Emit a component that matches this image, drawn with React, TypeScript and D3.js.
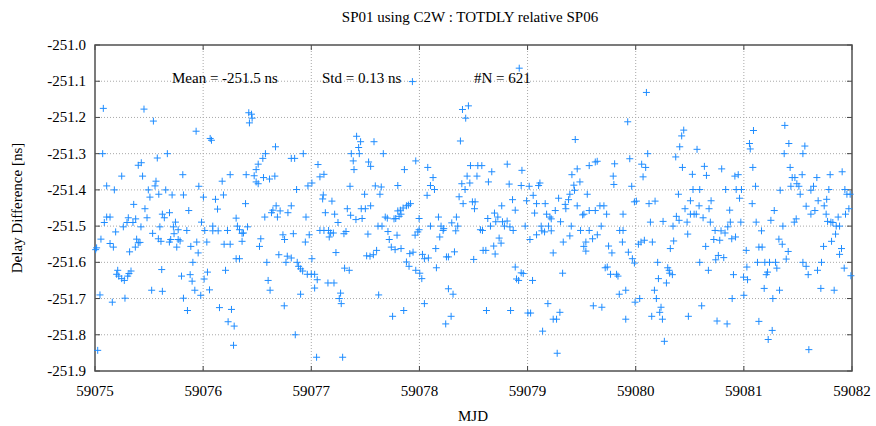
import React from "react";
import * as d3 from "d3";

const title = "SP01 using C2W : TOTDLY relative SP06";
const xLabel = "MJD";
const yLabel = "Delay Difference [ns]";
const xTicks = [59075, 59076, 59077, 59078, 59079, 59080, 59081, 59082];
const yTicks = [-251.0, -251.1, -251.2, -251.3, -251.4, -251.5, -251.6, -251.7, -251.8, -251.9];
const meanText = "Mean = -251.5 ns";
const stdText = "Std = 0.13 ns";
const countText = "#N = 621";

// [MJD, delay ns], grouped by the stretch of the plot they fall in
const stretch1: [number, number][] = [
  [59075.077,-251.175],[59075.453,-251.177],[59075.54,-251.21],[59075.071,-251.30],[59075.669,-251.30],[59075.576,-251.312],[59075.428,-251.325],[59075.40,-251.332],[59075.247,-251.362],[59075.44,-251.362],
  [59075.108,-251.389],[59075.179,-251.40],[59075.564,-251.376],[59075.555,-251.389],[59075.493,-251.40],[59075.508,-251.42],[59075.59,-251.412],[59075.654,-251.40],[59075.358,-251.44],[59075.462,-251.452],
  [59075.108,-251.475],[59075.139,-251.475],[59075.308,-251.477],[59075.481,-251.477],[59075.623,-251.467],[59075.641,-251.477],[59075.086,-251.49],[59075.296,-251.49],[59075.351,-251.49],[59075.376,-251.48],
  [59075.262,-251.502],[59075.425,-251.502],[59075.60,-251.502],[59075.191,-251.516],[59075.055,-251.536],[59075.139,-251.548],[59075.17,-251.558],[59075.385,-251.536],[59075.40,-251.546],[59075.416,-251.545],
  [59075.373,-251.558],[59075.533,-251.52],[59075.586,-251.535],[59075.61,-251.542],[59075.006,-251.565],[59075.015,-251.56],[59075.32,-251.571],[59075.21,-251.622],[59075.20,-251.633],[59075.22,-251.638],
  [59075.247,-251.645],[59075.271,-251.65],[59075.302,-251.638],[59075.314,-251.631],[59075.333,-251.624],[59075.617,-251.62],[59075.524,-251.677],[59075.623,-251.68],[59075.046,-251.69],[59075.16,-251.71],
  [59075.277,-251.699],[59075.025,-251.843],
];
const stretch2: [number, number][] = [
  [59075.935,-251.238],[59076.422,-251.187],[59076.447,-251.191],[59076.453,-251.202],[59076.428,-251.215],[59076.065,-251.258],[59076.077,-251.263],[59076.669,-251.281],[59076.576,-251.30],[59076.552,-251.313],
  [59076.509,-251.329],[59076.49,-251.344],[59075.812,-251.358],[59076.25,-251.358],[59076.398,-251.358],[59076.472,-251.361],[59076.558,-251.366],[59076.614,-251.37],[59076.663,-251.362],[59076.176,-251.376],
  [59076.49,-251.378],[59076.509,-251.383],[59075.96,-251.39],[59075.713,-251.414],[59075.818,-251.414],[59076.003,-251.42],[59076.114,-251.426],[59076.188,-251.414],[59076.392,-251.438],[59076.133,-251.453],
  [59075.867,-251.457],[59075.689,-251.463],[59076.645,-251.456],[59076.675,-251.444],[59076.712,-251.458],[59076.632,-251.463],[59076.687,-251.475],[59076.57,-251.475],[59076.305,-251.478],[59075.744,-251.489],
  [59075.985,-251.489],[59076.089,-251.50],[59076.317,-251.50],[59076.41,-251.502],[59075.725,-251.502],[59075.769,-251.51],[59075.849,-251.512],[59076.015,-251.512],[59076.089,-251.513],[59076.139,-251.513],
  [59076.225,-251.512],[59076.336,-251.51],[59076.373,-251.519],[59076.36,-251.52],[59075.731,-251.521],[59075.70,-251.537],[59075.688,-251.544],[59075.769,-251.537],[59075.787,-251.541],[59075.756,-251.558],
  [59075.886,-251.556],[59075.941,-251.544],[59076.034,-251.544],[59076.194,-251.55],[59076.25,-251.55],[59076.36,-251.542],[59076.533,-251.535],[59076.521,-251.556],[59075.954,-251.574],[59075.905,-251.60],
  [59076.305,-251.59],[59076.336,-251.59],[59076.589,-251.60],[59076.70,-251.579],[59075.80,-251.638],[59075.88,-251.634],[59076.04,-251.627],[59076.009,-251.646],[59076.207,-251.622],[59076.601,-251.65],
  [59075.898,-251.652],[59075.923,-251.677],[59075.978,-251.691],[59076.059,-251.676],[59076.619,-251.677],[59075.818,-251.699],[59075.855,-251.733],[59076.151,-251.725],[59076.262,-251.73],[59076.231,-251.764],
  [59076.287,-251.776],[59076.281,-251.829],
];
const stretch3: [number, number][] = [
  [59077.419,-251.252],[59077.456,-251.267],[59077.58,-251.267],[59077.438,-251.283],[59077.37,-251.30],[59077.444,-251.30],[59077.666,-251.30],[59076.926,-251.30],[59076.815,-251.313],[59076.846,-251.313],
  [59077.388,-251.32],[59077.53,-251.323],[59077.549,-251.335],[59077.395,-251.344],[59077.062,-251.33],[59077.117,-251.357],[59077.08,-251.364],[59077.006,-251.381],[59076.969,-251.389],[59076.864,-251.399],
  [59077.358,-251.39],[59077.592,-251.389],[59077.647,-251.392],[59077.635,-251.412],[59077.111,-251.414],[59077.105,-251.425],[59077.493,-251.412],[59077.191,-251.431],[59076.815,-251.444],[59076.784,-251.463],
  [59076.951,-251.475],[59077.13,-251.463],[59077.216,-251.467],[59077.333,-251.452],[59077.364,-251.47],[59077.413,-251.482],[59077.462,-251.452],[59077.50,-251.452],[59077.549,-251.444],[59077.47,-251.479],
  [59077.247,-251.49],[59077.684,-251.475],[59077.703,-251.478],[59077.765,-251.48],[59077.617,-251.50],[59077.654,-251.50],[59077.08,-251.512],[59077.117,-251.512],[59077.16,-251.512],[59077.179,-251.519],
  [59077.204,-251.519],[59077.166,-251.53],[59077.302,-251.521],[59077.321,-251.515],[59077.524,-251.522],[59077.709,-251.515],[59076.834,-251.521],[59076.738,-251.524],[59076.753,-251.537],[59076.981,-251.524],
  [59076.945,-251.544],[59077.721,-251.537],[59077.74,-251.558],[59077.228,-251.573],[59077.604,-251.567],[59077.574,-251.579],[59077.512,-251.582],[59077.543,-251.583],[59077.006,-251.59],[59076.766,-251.60],
  [59076.778,-251.583],[59076.815,-251.588],[59076.87,-251.60],[59076.883,-251.611],[59076.901,-251.618],[59076.92,-251.624],[59077.308,-251.616],[59077.351,-251.622],[59076.963,-251.633],[59077.0,-251.633],
  [59077.031,-251.633],[59077.055,-251.648],[59077.031,-251.671],[59077.154,-251.657],[59077.21,-251.657],[59077.271,-251.685],[59077.259,-251.70],[59077.277,-251.714],[59076.901,-251.688],[59077.623,-251.69],
  [59076.75,-251.72],[59077.752,-251.749],[59076.852,-251.80],[59077.049,-251.862],[59077.29,-251.862],
];
const stretch4: [number, number][] = [
  [59077.935,-251.101],[59078.398,-251.178],[59078.453,-251.168],[59078.428,-251.202],[59078.379,-251.265],[59077.966,-251.32],[59078.077,-251.338],[59077.861,-251.344],[59078.472,-251.333],[59078.54,-251.333],
  [59078.577,-251.333],[59078.669,-251.35],[59078.441,-251.362],[59078.532,-251.362],[59078.126,-251.366],[59077.80,-251.388],[59078.102,-251.388],[59078.139,-251.399],[59078.392,-251.383],[59078.466,-251.381],
  [59078.638,-251.378],[59078.422,-251.399],[59078.071,-251.415],[59078.367,-251.419],[59078.404,-251.438],[59078.49,-251.433],[59078.515,-251.433],[59078.509,-251.452],[59078.761,-251.444],[59077.917,-251.438],
  [59077.898,-251.442],[59077.88,-251.444],[59077.849,-251.45],[59077.824,-251.456],[59077.80,-251.458],[59077.83,-251.467],[59077.812,-251.473],[59078.694,-251.464],[59078.725,-251.475],[59077.781,-251.479],
  [59077.997,-251.479],[59078.176,-251.475],[59078.342,-251.475],[59078.632,-251.479],[59078.706,-251.488],[59078.768,-251.488],[59078.811,-251.486],[59078.102,-251.50],[59078.20,-251.50],[59078.225,-251.507],
  [59078.299,-251.491],[59078.354,-251.50],[59078.657,-251.50],[59078.786,-251.50],[59078.219,-251.512],[59078.336,-251.513],[59078.564,-251.51],[59078.583,-251.512],[59077.997,-251.51],[59077.985,-251.516],
  [59077.793,-251.525],[59077.96,-251.525],[59078.188,-251.53],[59078.737,-251.533],[59078.755,-251.547],[59078.687,-251.555],[59078.70,-251.577],[59078.589,-251.567],[59078.614,-251.567],[59077.775,-251.565],
  [59077.83,-251.562],[59077.911,-251.576],[59077.941,-251.572],[59078.151,-251.562],[59078.324,-251.571],[59078.028,-251.578],[59078.046,-251.59],[59078.083,-251.588],[59078.25,-251.585],[59078.268,-251.585],
  [59078.502,-251.592],[59077.88,-251.599],[59077.904,-251.611],[59078.157,-251.615],[59077.966,-251.622],[59078.003,-251.63],[59078.022,-251.645],[59078.268,-251.673],[59078.311,-251.688],[59078.046,-251.714],
  [59077.855,-251.733],[59078.62,-251.733],[59078.293,-251.749],[59078.243,-251.77],
];
const stretch5: [number, number][] = [
  [59078.923,-251.064],[59079.441,-251.261],[59079.644,-251.321],[59079.626,-251.323],[59079.57,-251.333],[59079.805,-251.328],[59079.459,-251.342],[59079.41,-251.358],[59078.948,-251.346],[59079.792,-251.362],
  [59079.798,-251.385],[59078.812,-251.329],[59078.83,-251.384],[59078.941,-251.388],[59079.015,-251.39],[59079.102,-251.388],[59079.114,-251.381],[59079.484,-251.378],[59079.428,-251.387],[59079.434,-251.401],
  [59079.052,-251.415],[59079.391,-251.412],[59079.552,-251.412],[59078.861,-251.427],[59078.991,-251.43],[59079.379,-251.427],[59079.287,-251.423],[59079.083,-251.438],[59079.163,-251.438],[59079.348,-251.44],
  [59079.459,-251.444],[59079.669,-251.444],[59079.706,-251.444],[59079.354,-251.452],[59078.886,-251.456],[59079.256,-251.457],[59079.065,-251.464],[59079.176,-251.467],[59079.509,-251.469],[59079.521,-251.467],
  [59079.57,-251.457],[59079.626,-251.457],[59079.731,-251.467],[59079.207,-251.475],[59079.219,-251.48],[59079.305,-251.488],[59078.837,-251.502],[59078.978,-251.50],[59079.126,-251.50],[59079.194,-251.50],
  [59079.404,-251.50],[59079.681,-251.50],[59078.867,-251.512],[59079.132,-251.513],[59079.157,-251.516],[59079.219,-251.513],[59079.49,-251.512],[59079.57,-251.512],[59079.083,-251.524],[59079.391,-251.527],
  [59079.645,-251.524],[59079.022,-251.537],[59079.601,-251.535],[59079.33,-251.544],[59079.539,-251.544],[59079.52,-251.556],[59079.539,-251.569],[59079.749,-251.555],[59079.78,-251.574],[59079.237,-251.574],
  [59079.718,-251.615],[59079.737,-251.613],[59079.767,-251.633],[59079.823,-251.633],[59079.836,-251.638],[59079.324,-251.63],[59078.886,-251.613],[59078.941,-251.629],[59078.96,-251.631],[59078.898,-251.646],
  [59078.917,-251.65],[59079.046,-251.65],[59079.848,-251.688],[59078.843,-251.733],[59079.003,-251.74],[59079.028,-251.74],[59079.188,-251.714],[59079.299,-251.738],[59079.237,-251.757],[59079.268,-251.757],
  [59079.608,-251.72],[59079.687,-251.724],[59079.139,-251.79],[59079.274,-251.851],
];
const stretch6: [number, number][] = [
  [59080.099,-251.131],[59079.926,-251.212],[59080.444,-251.235],[59080.425,-251.251],[59080.407,-251.281],[59080.567,-251.288],[59080.111,-251.30],[59080.37,-251.309],[59079.945,-251.314],[59080.055,-251.329],
  [59080.092,-251.338],[59080.432,-251.338],[59080.635,-251.335],[59080.795,-251.342],[59080.068,-251.364],[59080.524,-251.357],[59080.654,-251.36],[59079.963,-251.39],[59080.53,-251.399],[59080.592,-251.399],
  [59080.832,-251.399],[59080.395,-251.412],[59079.988,-251.433],[59080.006,-251.431],[59080.123,-251.438],[59080.179,-251.431],[59080.506,-251.43],[59080.697,-251.43],[59080.586,-251.444],[59080.456,-251.452],
  [59080.678,-251.452],[59079.883,-251.467],[59080.376,-251.473],[59080.506,-251.467],[59080.54,-251.467],[59080.56,-251.467],[59080.623,-251.477],[59080.869,-251.456],[59080.401,-251.484],[59080.253,-251.487],
  [59080.136,-251.489],[59080.475,-251.489],[59080.69,-251.489],[59080.875,-251.489],[59080.345,-251.50],[59080.851,-251.502],[59079.852,-251.512],[59079.883,-251.512],[59080.734,-251.512],[59080.789,-251.513],
  [59080.826,-251.519],[59080.481,-251.522],[59080.722,-251.537],[59080.777,-251.539],[59080.888,-251.535],[59079.877,-251.544],[59080.025,-251.55],[59080.049,-251.544],[59080.08,-251.539],[59080.154,-251.544],
  [59080.351,-251.541],[59080.32,-251.562],[59080.647,-251.556],[59079.932,-251.572],[59079.969,-251.59],[59079.988,-251.602],[59080.203,-251.60],[59080.592,-251.60],[59080.74,-251.593],[59080.764,-251.581],
  [59080.814,-251.587],[59080.296,-251.615],[59080.309,-251.622],[59080.314,-251.63],[59080.339,-251.634],[59080.672,-251.622],[59080.21,-251.645],[59080.284,-251.657],[59080.173,-251.677],[59079.908,-251.677],
  [59080.037,-251.70],[59080.191,-251.70],[59079.994,-251.71],[59080.234,-251.724],[59080.222,-251.738],[59080.148,-251.749],[59080.247,-251.757],[59080.487,-251.749],[59080.61,-251.72],[59079.908,-251.757],
  [59080.752,-251.762],[59080.845,-251.77],[59080.265,-251.818],
];
const stretch7: [number, number][] = [
  [59081.379,-251.222],[59081.089,-251.236],[59081.052,-251.272],[59081.059,-251.287],[59081.416,-251.272],[59081.564,-251.279],[59081.373,-251.30],[59081.546,-251.30],[59081.083,-251.338],[59081.428,-251.338],
  [59080.917,-251.362],[59080.948,-251.358],[59081.447,-251.366],[59081.472,-251.366],[59081.539,-251.358],[59081.675,-251.366],[59081.798,-251.358],[59081.909,-251.35],[59081.108,-251.39],[59081.435,-251.39],
  [59081.49,-251.383],[59081.509,-251.39],[59081.644,-251.39],[59080.929,-251.399],[59080.978,-251.399],[59081.336,-251.401],[59081.62,-251.401],[59081.786,-251.399],[59081.934,-251.399],[59081.521,-251.412],
  [59081.953,-251.412],[59081.983,-251.412],[59080.96,-251.423],[59081.077,-251.438],[59081.687,-251.43],[59081.766,-251.426],[59081.576,-251.445],[59081.743,-251.444],[59081.971,-251.452],[59081.281,-251.457],
  [59081.657,-251.457],[59081.62,-251.467],[59081.761,-251.467],[59081.872,-251.475],[59081.94,-251.467],[59081.25,-251.484],[59081.484,-251.48],[59081.466,-251.489],[59081.774,-251.487],[59081.805,-251.489],
  [59081.823,-251.49],[59080.972,-251.489],[59081.114,-251.489],[59081.361,-251.50],[59081.854,-251.50],[59081.885,-251.50],[59081.163,-251.513],[59081.848,-251.522],[59080.923,-251.53],[59081.324,-251.536],
  [59081.355,-251.55],[59081.811,-251.542],[59081.139,-251.558],[59081.169,-251.558],[59081.737,-251.556],[59081.903,-251.562],[59081.022,-251.567],[59081.41,-251.57],[59081.885,-251.578],[59081.392,-251.591],
  [59081.126,-251.60],[59081.194,-251.60],[59081.237,-251.60],[59081.293,-251.60],[59081.546,-251.60],[59081.718,-251.60],[59081.305,-251.616],[59081.576,-251.611],[59081.681,-251.622],[59081.928,-251.616],
  [59081.028,-251.613],[59081.219,-251.627],[59081.207,-251.634],[59081.595,-251.634],[59081.99,-251.637],[59080.904,-251.634],[59080.997,-251.641],[59081.034,-251.648],[59081.188,-251.672],[59081.33,-251.677],
  [59081.712,-251.672],[59081.835,-251.677],[59081.0,-251.691],[59080.892,-251.70],[59081.268,-251.70],[59081.139,-251.763],[59081.262,-251.788],[59081.225,-251.813],[59081.601,-251.841],
];

const W = 876;
const H = 426;
const left = 95;
const right = 852;
const top = 45;
const bottom = 371;
const font = "'Liberation Serif', 'Times New Roman', serif";
const blue = "#1e8cff";

export default function App() {
  const x = d3.scaleLinear().domain([59075, 59082]).range([left, right]);
  const y = d3.scaleLinear().domain([-251.9, -251.0]).range([bottom, top]);
  const points = [...stretch1, ...stretch2, ...stretch3, ...stretch4, ...stretch5, ...stretch6, ...stretch7];

  return (
    <svg width={W} height={H} style={{ position: "absolute", left: 0, top: 0, background: "#fff" }} fontFamily={font}>
      <rect width={W} height={H} fill="#fff" />
      <text x={470} y={22} fontSize={15} textAnchor="middle">{title}</text>

      {/* grid */}
      {yTicks.slice(1, -1).map((t) => (
        <line key={"gy" + t} x1={left} x2={right} y1={y(t)} y2={y(t)} stroke="#a8a8a8" strokeDasharray="1,2" />
      ))}
      {xTicks.slice(1, -1).map((t) => (
        <line key={"gx" + t} x1={x(t)} x2={x(t)} y1={top} y2={bottom} stroke="#a8a8a8" strokeDasharray="1,2" />
      ))}

      {/* ticks, inward on all sides */}
      {yTicks.map((t) => (
        <g key={"ty" + t}>
          <line x1={left} x2={left + 5} y1={y(t)} y2={y(t)} stroke="#444" />
          <line x1={right - 5} x2={right} y1={y(t)} y2={y(t)} stroke="#444" />
          <text x={86} y={y(t) + 5} fontSize={15} textAnchor="end">{t.toFixed(1)}</text>
        </g>
      ))}
      {xTicks.map((t) => (
        <g key={"tx" + t}>
          <line x1={x(t)} x2={x(t)} y1={bottom} y2={bottom - 5} stroke="#444" />
          <line x1={x(t)} x2={x(t)} y1={top} y2={top + 5} stroke="#444" />
          <text x={x(t)} y={396} fontSize={15} textAnchor="middle">{t}</text>
        </g>
      ))}

      <rect x={left} y={top} width={right - left} height={bottom - top} fill="none" stroke="#505050" strokeWidth={1.5} />

      <text x={473} y={421} fontSize={15} textAnchor="middle">{xLabel}</text>
      <text transform={`translate(22,208) rotate(-90)`} fontSize={15} textAnchor="middle">{yLabel}</text>

      <text x={172} y={83} fontSize={15}>{meanText}</text>
      <text x={322} y={83} fontSize={15}>{stdText}</text>
      <text x={474} y={83} fontSize={15}>{countText}</text>

      <g stroke={blue} strokeWidth={1}>
        {points.map(([m, v], i) => (
          <path key={i} d={`M${x(m) - 3.5},${y(v)}h7M${x(m)},${y(v) - 3.5}v7`} />
        ))}
      </g>
    </svg>
  );
}
